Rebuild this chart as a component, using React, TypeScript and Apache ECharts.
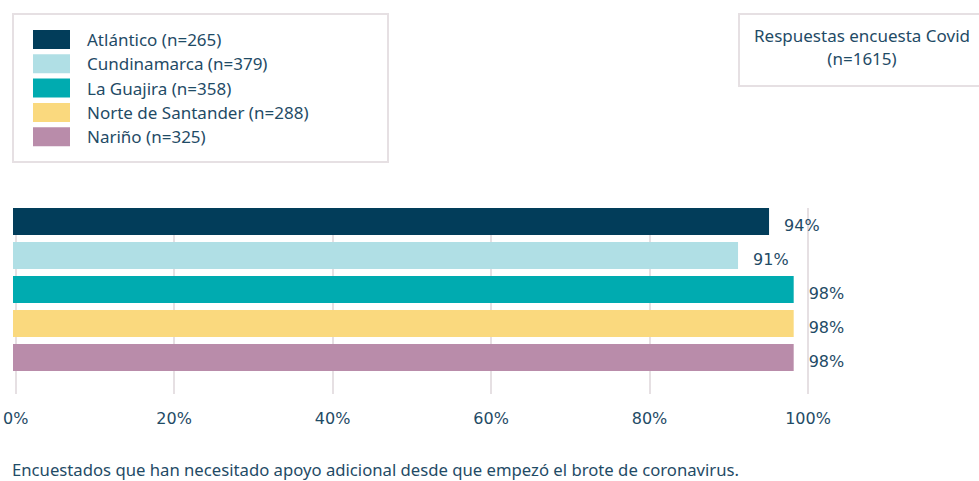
import React, { useEffect, useRef } from "react";
import * as echarts from "echarts";

const regions = [
  "Atlántico (n=265)",
  "Cundinamarca (n=379)",
  "La Guajira (n=358)",
  "Norte de Santander (n=288)",
  "Nariño (n=325)",
];
const barValues = [95.1, 91.2, 98.2, 98.2, 98.2];
const barLabels = ["94%", "91%", "98%", "98%", "98%"];
const colors = ["#023d5a", "#b0dfe5", "#00abb0", "#fad97e", "#b98caa"];
const xTicks = [0, 20, 40, 60, 80, 100];
const boxTitle = ["Respuestas encuesta Covid", "(n=1615)"];
const footer =
  "Encuestados que han necesitado apoyo adicional desde que empezó el brote de coronavirus.";

const TEXT = "#1f4b66";
const BORDER = "#e6e0e3";
const FONT = "'Noto Sans', sans-serif";
const NUMFONT = "'DejaVu Sans', sans-serif";

export default function App() {
  const ref = useRef<HTMLDivElement>(null);
  useEffect(() => {
    if (!ref.current) return;
    const chart = echarts.init(ref.current, undefined, { renderer: "svg" });
    const series = regions.map((name, i) => ({
      name,
      type: "bar",
      xAxisIndex: 1,
      yAxisIndex: 1,
      stack: "all",
      barWidth: 27,
      itemStyle: { color: colors[i] },
      label: {
        show: true,
        position: "right",
        distance: 15,
        offset: [0, 4],
        color: TEXT,
        fontFamily: NUMFONT,
        fontSize: 16,
        formatter: () => barLabels[i],
      },
      data: regions.map((_, j) => (j === i ? barValues[i] : "-")),
    }));
    chart.setOption({
      animation: false,
      legend: {
        data: regions,
        orient: "vertical",
        left: 33,
        top: 30,
        padding: 0,
        itemWidth: 37,
        itemHeight: 19,
        itemGap: 5.3,
        icon: "rect",
        textStyle: { color: TEXT, fontFamily: FONT, fontSize: 17, padding: [0, 0, 0, 12] },
        selectedMode: false,
      },
      grid: [
        { left: 13, right: 171, top: 208, bottom: 87 },
        { left: 13, right: 171, top: 204.5, height: 170 },
      ],
      xAxis: [
        {
          gridIndex: 0,
          type: "value",
          min: 0,
          max: 100,
          interval: 20,
          axisLine: { show: false },
          axisTick: { show: false },
          splitLine: { show: true, lineStyle: { color: BORDER, width: 2 } },
          axisLabel: {
            formatter: (v: number) => (xTicks.includes(v) ? v + "%" : ""),
            color: TEXT,
            fontFamily: NUMFONT,
            fontSize: 16,
            margin: 16,
          },
        },
        { gridIndex: 1, type: "value", min: 0, max: 100, show: false, splitLine: { show: false } },
      ],
      yAxis: [
        { gridIndex: 0, type: "value", show: false, splitLine: { show: false } },
        { gridIndex: 1, type: "category", data: regions, inverse: true, show: false },
      ],
      series,
      graphic: [
        {
          type: "rect",
          shape: { x: 13, y: 14, width: 375, height: 148 },
          style: { fill: "none", stroke: BORDER, lineWidth: 2 },
        },
        {
          type: "rect",
          shape: { x: 739, y: 14, width: 250, height: 72 },
          style: { fill: "none", stroke: BORDER, lineWidth: 2 },
        },
        {
          type: "text",
          x: 862,
          y: 35,
          style: {
            text: boxTitle[0],
            fill: TEXT,
            font: `17px ${FONT}`,
            align: "center",
            verticalAlign: "middle",
          },
        },
        {
          type: "text",
          x: 862,
          y: 58,
          style: {
            text: boxTitle[1],
            fill: TEXT,
            font: `17px ${FONT}`,
            align: "center",
            verticalAlign: "middle",
          },
        },
        {
          type: "text",
          x: 12,
          y: 469,
          style: {
            text: footer,
            fill: TEXT,
            font: `16.7px ${FONT}`,
            align: "left",
            verticalAlign: "middle",
          },
        },
      ],
    });
    return () => chart.dispose();
  }, []);
  return (
    <div
      ref={ref}
      style={{ position: "fixed", left: 0, top: 0, width: 979, height: 481, background: "#fff" }}
    />
  );
}
